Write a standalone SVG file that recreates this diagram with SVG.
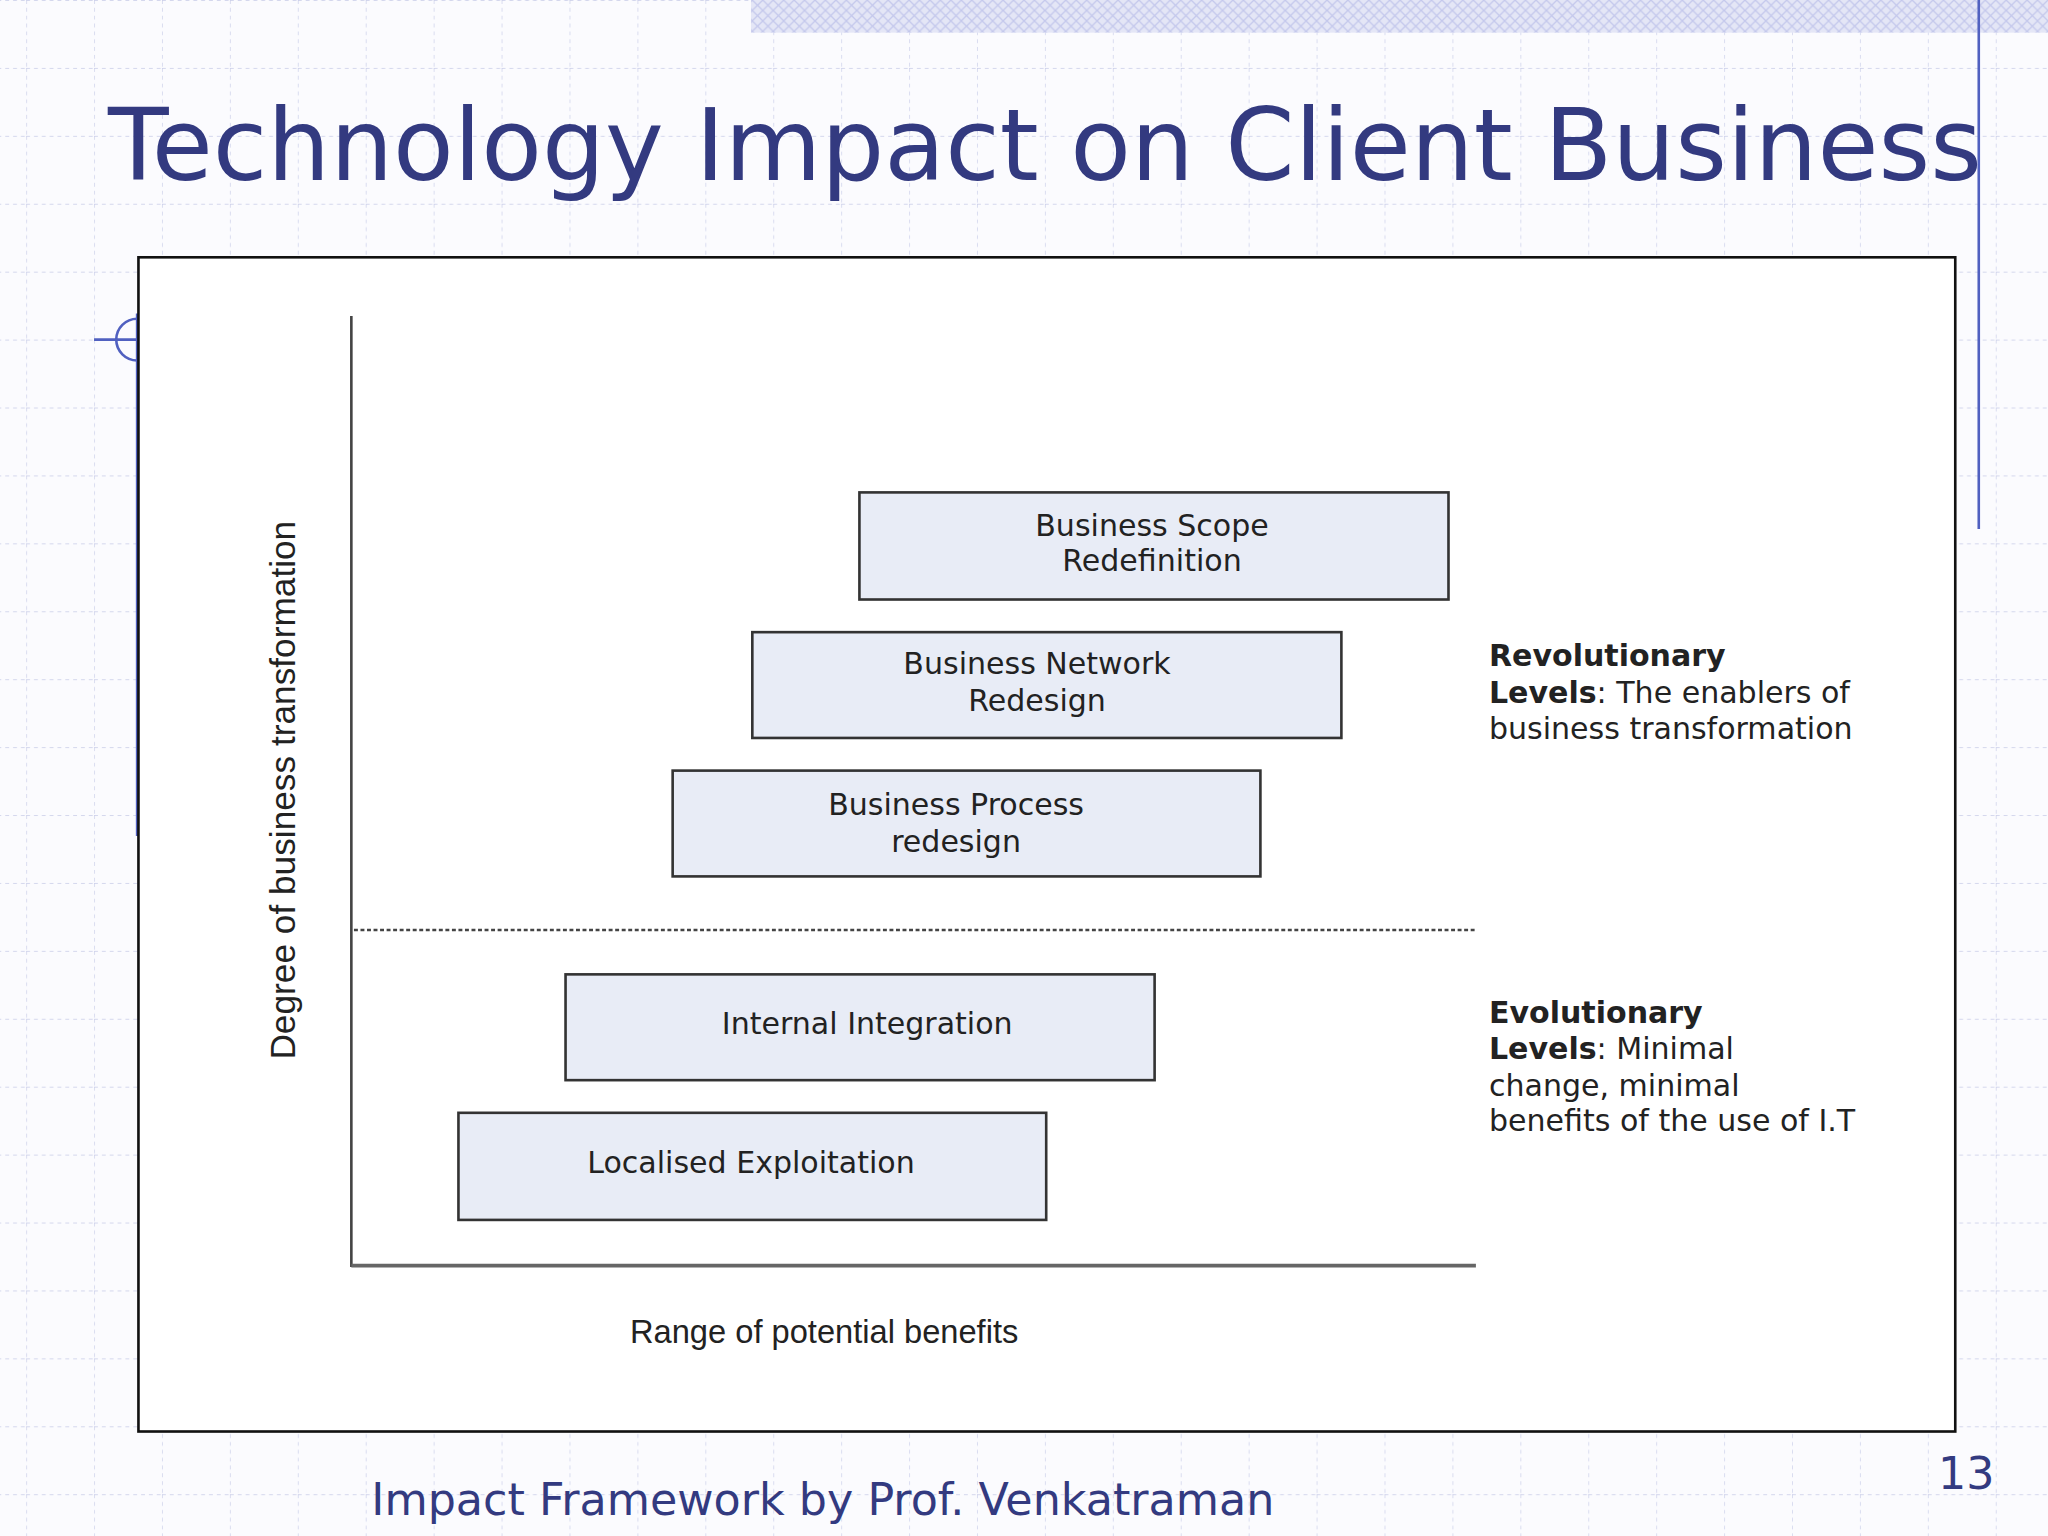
<svg xmlns="http://www.w3.org/2000/svg" width="2048" height="1536" viewBox="0 0 2048 1536">
<defs>
<style>
.grid{stroke:#c8cce8;stroke-width:1;stroke-dasharray:3 3}
.box{fill:#e8ecf6;stroke:#333;stroke-width:2}
.t{font-family:Verdana,"DejaVu Sans",sans-serif;font-size:23px;fill:#222;text-anchor:middle}
.s{font-family:Verdana,"DejaVu Sans",sans-serif;font-size:23px;fill:#222}
</style>
<pattern id="hatch" width="8" height="8" patternUnits="userSpaceOnUse"><rect width="8" height="8" fill="#e4e6f6"/><path d="M0 0L8 8M8 0L0 8" stroke="#c4c8ec" stroke-width="1"/></pattern>
<pattern id="g" width="52" height="52" patternUnits="userSpaceOnUse" x="20" y="0"><path d="M0 0V52M0 0H52" class="grid" fill="none"/></pattern>
</defs>
<g transform="scale(1.30612)">
<rect width="1568" height="1176" fill="#fbfbfe"/>
<rect width="1568" height="1176" fill="url(#g)"/>
<rect x="575" y="0" width="993" height="25" fill="url(#hatch)"/>
<line x1="1515" y1="0" x2="1515" y2="405" stroke="#5060c0" stroke-width="2"/>
<line x1="105" y1="240" x2="105" y2="640" stroke="#5060c0" stroke-width="2"/>
<line x1="72" y1="260" x2="110" y2="260" stroke="#5060c0" stroke-width="2"/>
<circle cx="105" cy="260" r="16" fill="none" stroke="#5060c0" stroke-width="2"/>
<text x="800" y="138" font-family="Verdana,'DejaVu Sans',sans-serif" font-size="76" fill="#333a80" text-anchor="middle">Technology Impact on Client Business</text>
<rect x="106" y="197" width="1391" height="899" fill="#fff" stroke="#111" stroke-width="2"/>
<g id="axes">
<line x1="269" y1="242" x2="269" y2="970" stroke="#444" stroke-width="2"/>
<line x1="269" y1="969" x2="1130" y2="969" stroke="#666" stroke-width="3"/>
<line x1="271" y1="712" x2="1130" y2="712" stroke="#444" stroke-width="2" stroke-dasharray="3 2"/>
<text transform="translate(226,605) rotate(-90)" font-family="'Liberation Sans',Arial,sans-serif" font-size="27" fill="#222" text-anchor="middle">Degree of business transformation</text>
<text x="631" y="1028" font-family="'Liberation Sans',Arial,sans-serif" font-size="25" fill="#222" text-anchor="middle">Range of potential benefits</text>
</g>
<g id="n1"><rect class="box" x="658" y="377" width="451" height="82"/><text class="t" x="882" y="410">Business Scope</text><text class="t" x="882" y="437">Redefinition</text></g>
<g id="n2"><rect class="box" x="576" y="484" width="451" height="81"/><text class="t" x="794" y="516">Business Network</text><text class="t" x="794" y="544">Redesign</text></g>
<g id="n3"><rect class="box" x="515" y="590" width="450" height="81"/><text class="t" x="732" y="624">Business Process</text><text class="t" x="732" y="652">redesign</text></g>
<g id="n4"><rect class="box" x="433" y="746" width="451" height="81"/><text class="t" x="664" y="792">Internal Integration</text></g>
<g id="n5"><rect class="box" x="351" y="852" width="450" height="82"/><text class="t" x="575" y="898">Localised Exploitation</text></g>
<g id="rev"><text class="s" x="1140" y="510"><tspan font-weight="bold">Revolutionary</tspan></text><text class="s" x="1140" y="538"><tspan font-weight="bold">Levels</tspan>: The enablers of</text><text class="s" x="1140" y="566">business transformation</text></g>
<g id="evo"><text class="s" x="1140" y="783"><tspan font-weight="bold">Evolutionary</tspan></text><text class="s" x="1140" y="811"><tspan font-weight="bold">Levels</tspan>: Minimal</text><text class="s" x="1140" y="839">change, minimal</text><text class="s" x="1140" y="866">benefits of the use of I.T</text></g>
<text x="630" y="1160" font-family="Verdana,'DejaVu Sans',sans-serif" font-size="34" fill="#333a80" text-anchor="middle">Impact Framework by Prof. Venkatraman</text>
<text x="1527" y="1140" font-family="Verdana,'DejaVu Sans',sans-serif" font-size="34" fill="#333a80" text-anchor="end">13</text>
</g>
</svg>
